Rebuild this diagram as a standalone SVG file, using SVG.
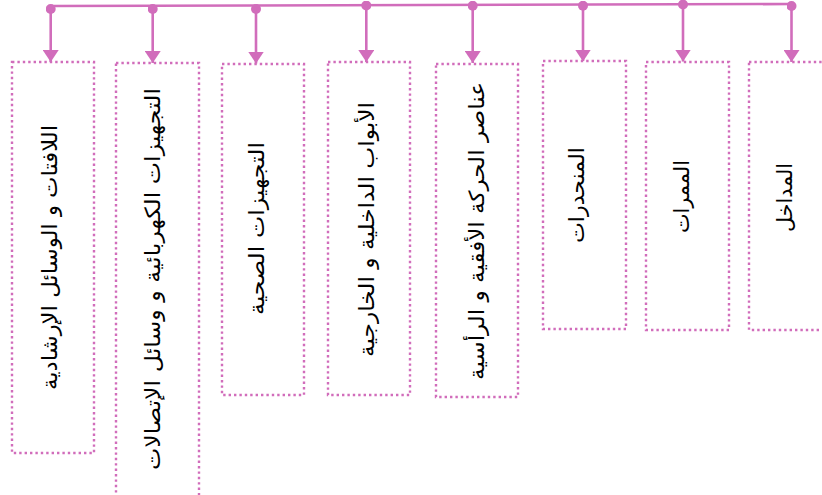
<svg xmlns="http://www.w3.org/2000/svg" width="822" height="495" viewBox="0 0 822 495">
  <style>
    .box { fill: #ffffff; stroke: #D16DBB; stroke-width: 2.4; stroke-dasharray: 2.4 3; }
    .conn { stroke: #D16DBB; stroke-width: 2.6; fill: none; }
    .lbl { font-family: "DejaVu Sans", "Noto Sans", sans-serif; font-size: 21px; fill: #000000; text-anchor: middle; dominant-baseline: central; }
  </style>
  <defs>
    <marker id="arrow" viewBox="0 0 12 16" refX="12" refY="8" markerWidth="12" markerHeight="16" markerUnits="userSpaceOnUse" orient="auto">
      <path d="M0,0 L12,8 L0,16 Z" fill="#D16DBB"/>
    </marker>
    <marker id="dot" viewBox="0 0 10 10" refX="5" refY="5" markerWidth="10" markerHeight="10" markerUnits="userSpaceOnUse" orient="auto">
      <circle cx="5" cy="5" r="5" fill="#D16DBB"/>
    </marker>
  </defs>

  <g id="connectors">
    <line class="conn" x1="50" y1="6" x2="791" y2="4"/>
    <line class="conn" x1="50.7" y1="9" x2="50.7" y2="62" marker-start="url(#dot)" marker-end="url(#arrow)"/>
    <line class="conn" x1="152.7" y1="9" x2="152.7" y2="63" marker-start="url(#dot)" marker-end="url(#arrow)"/>
    <line class="conn" x1="256" y1="9" x2="256" y2="63.5" marker-start="url(#dot)" marker-end="url(#arrow)"/>
    <line class="conn" x1="366.3" y1="5.5" x2="366.3" y2="62" marker-start="url(#dot)" marker-end="url(#arrow)"/>
    <line class="conn" x1="472.7" y1="5.7" x2="472.7" y2="63" marker-start="url(#dot)" marker-end="url(#arrow)"/>
    <line class="conn" x1="583" y1="5.7" x2="583" y2="61.5" marker-start="url(#dot)" marker-end="url(#arrow)"/>
    <line class="conn" x1="683" y1="4.5" x2="683" y2="61.5" marker-start="url(#dot)" marker-end="url(#arrow)"/>
    <line class="conn" x1="791.5" y1="6" x2="791.5" y2="62" marker-start="url(#dot)" marker-end="url(#arrow)"/>
  </g>

  <g id="node1">
    <rect class="box" x="12" y="62" width="82" height="391"/>
    <text class="lbl" transform="translate(50,257.5) rotate(-90)" textLength="265" lengthAdjust="spacingAndGlyphs">اللافتات و الوسائل الإرشادية</text>
  </g>
  <g id="node2">
    <rect class="box" x="116" y="63" width="83" height="445"/>
    <text class="lbl" transform="translate(153,279) rotate(-90)" textLength="382" lengthAdjust="spacingAndGlyphs">التجهيزات الكهربائية و وسائل الإتصالات</text>
  </g>
  <g id="node3">
    <rect class="box" x="222" y="64" width="82" height="331"/>
    <text class="lbl" transform="translate(257,228.5) rotate(-90)" textLength="173" lengthAdjust="spacingAndGlyphs">التجهيزات الصحية</text>
  </g>
  <g id="node4">
    <rect class="box" x="328" y="62" width="82" height="333"/>
    <text class="lbl" transform="translate(367,229.5) rotate(-90)" textLength="255" lengthAdjust="spacingAndGlyphs">الأبواب الداخلية و الخارجية</text>
  </g>
  <g id="node5">
    <rect class="box" x="436" y="64" width="82" height="333"/>
    <text class="lbl" transform="translate(477,231) rotate(-90)" textLength="298" lengthAdjust="spacingAndGlyphs">عناصر الحركة الأفقية و الرأسية</text>
  </g>
  <g id="node6">
    <rect class="box" x="543" y="61" width="83" height="268"/>
    <text class="lbl" transform="translate(577,195) rotate(-90)" textLength="96" lengthAdjust="spacingAndGlyphs">المنحدرات</text>
  </g>
  <g id="node7">
    <rect class="box" x="646" y="62" width="83" height="268"/>
    <text class="lbl" transform="translate(682,196.5) rotate(-90)" textLength="73" lengthAdjust="spacingAndGlyphs">الممرات</text>
  </g>
  <g id="node8">
    <rect class="box" x="749" y="62" width="90" height="268"/>
    <text class="lbl" transform="translate(785,197.5) rotate(-90)" textLength="69" lengthAdjust="spacingAndGlyphs">المداخل</text>
  </g>
</svg>
